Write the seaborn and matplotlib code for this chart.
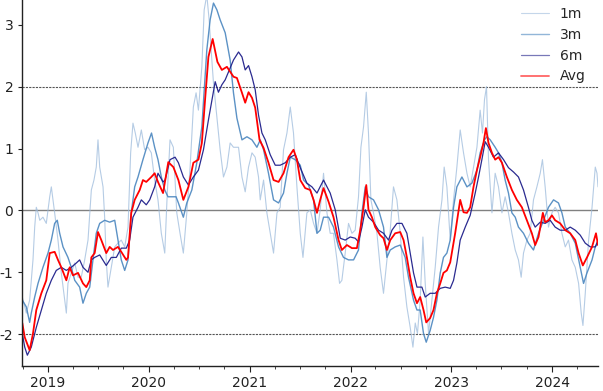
import numpy as np
import pandas as pd
import matplotlib
matplotlib.use("Agg")
import matplotlib.pyplot as plt
import matplotlib.dates as mdates
import seaborn as sns

# ---- data (decimal years, z-score values) ----
t_1m = [2018.745, 2018.785, 2018.818, 2018.851, 2018.868, 2018.884, 2018.901, 2018.918, 2018.950, 2018.983,
        2019.017, 2019.033, 2019.066, 2019.099, 2019.132, 2019.166, 2019.182, 2019.198, 2019.231, 2019.265,
        2019.298, 2019.330, 2019.364, 2019.397, 2019.430, 2019.456, 2019.479, 2019.496, 2019.513, 2019.546,
        2019.562, 2019.578, 2019.595, 2019.628, 2019.662, 2019.694, 2019.727, 2019.761, 2019.794, 2019.820,
        2019.843, 2019.866, 2019.893, 2019.926, 2019.959, 2019.992, 2020.025, 2020.058, 2020.091, 2020.124,
        2020.158, 2020.180, 2020.210, 2020.243, 2020.277, 2020.309, 2020.342, 2020.376, 2020.409, 2020.441,
        2020.468, 2020.491, 2020.525, 2020.548, 2020.574, 2020.597, 2020.617, 2020.640, 2020.674, 2020.706,
        2020.739, 2020.773, 2020.805, 2020.838, 2020.888, 2020.922, 2020.954, 2020.987, 2021.021, 2021.053,
        2021.086, 2021.103, 2021.136, 2021.169, 2021.202, 2021.235, 2021.269, 2021.301, 2021.334, 2021.368,
        2021.401, 2021.433, 2021.467, 2021.500, 2021.527, 2021.566, 2021.599, 2021.632, 2021.666, 2021.698,
        2021.731, 2021.765, 2021.797, 2021.830, 2021.864, 2021.890, 2021.913, 2021.946, 2021.979, 2022.013,
        2022.045, 2022.078, 2022.102, 2022.128, 2022.155, 2022.177, 2022.201, 2022.227, 2022.261, 2022.293,
        2022.326, 2022.360, 2022.393, 2022.425, 2022.459, 2022.492, 2022.525, 2022.558, 2022.591, 2022.618,
        2022.641, 2022.663, 2022.690, 2022.717, 2022.740, 2022.773, 2022.806, 2022.839, 2022.872, 2022.906,
        2022.928, 2022.955, 2022.988, 2023.021, 2023.054, 2023.087, 2023.120, 2023.154, 2023.186, 2023.219,
        2023.253, 2023.285, 2023.308, 2023.328, 2023.348, 2023.368, 2023.402, 2023.434, 2023.467, 2023.501,
        2023.533, 2023.566, 2023.600, 2023.633, 2023.665, 2023.692, 2023.715, 2023.749, 2023.781, 2023.814,
        2023.848, 2023.881, 2023.903, 2023.930, 2023.963, 2023.997, 2024.029, 2024.062, 2024.096, 2024.129,
        2024.161, 2024.195, 2024.228, 2024.261, 2024.287, 2024.304, 2024.327, 2024.360, 2024.394, 2024.426,
        2024.443, 2024.453]
v_1m = [-1.40, -1.66, -1.45, -0.80, -0.27, 0.05, -0.04, -0.16, -0.11, -0.21,
        0.22, 0.38, -0.04, -0.48, -1.01, -1.45, -1.66, -1.18, -1.01, -0.85,
        -1.08, -1.08, -0.80, -0.48, 0.33, 0.49, 0.70, 1.14, 0.70, 0.38,
        -0.11, -0.80, -1.24, -0.92, -0.59, -0.53, -0.48, -0.59, -0.27, 0.93,
        1.41, 1.25, 1.02, 1.30, 0.98, 1.02, 0.93, 0.49, 0.17, -0.37,
        -0.69, 0.17, 1.14, 1.02, -0.04, -0.37, -0.69, -0.04, 0.70, 1.67,
        1.90, 1.62, 2.32, 3.24, 3.48, 3.08, 2.59, 2.06, 1.51, 0.98,
        0.54, 0.70, 1.09, 1.02, 1.02, 0.54, 0.30, 0.70, 0.93, 0.86,
        0.54, 0.17, 0.49, -0.04, -0.37, -0.69, -0.04, 0.05, 0.98, 1.25,
        1.67, 1.25, 0.38, -0.37, -0.76, -0.04, 0.01, -0.21, -0.37, 0.01,
        0.60, -0.04, -0.37, -0.37, -0.80, -1.18, -1.13, -0.69, -0.21, -0.37,
        -0.32, 0.22, 1.02, 1.35, 1.91, 1.25, 0.17, -0.04, -0.37, -0.92,
        -1.34, -0.80, -0.32, 0.38, 0.17, -0.37, -1.08, -1.56, -1.89, -2.21,
        -1.82, -1.99, -1.45, -0.43, -1.18, -1.99, -1.45, -0.92, -0.27, 0.17,
        0.70, 0.38, -0.48, 0.17, 0.70, 1.30, 0.93, 0.60, 0.38, 0.70,
        1.02, 1.62, 1.25, 1.79, 2.00, 0.82, -0.04, 0.60, 0.38, -0.04,
        0.22, -0.04, -0.37, -0.64, -0.80, -1.08, -0.69, -0.48, -0.37, 0.17,
        0.38, 0.60, 0.82, 0.38, -0.27, -0.04, 0.05, -0.04, -0.37, -0.59,
        -0.48, -0.80, -0.92, -1.18, -1.66, -1.86, -1.34, -0.48, 0.05, 0.70,
        0.60, 0.38]

t_3m = [2018.745, 2018.785, 2018.818, 2018.834, 2018.868, 2018.901, 2018.950, 2019.000, 2019.033, 2019.066,
        2019.092, 2019.116, 2019.149, 2019.198, 2019.231, 2019.265, 2019.314, 2019.347, 2019.380, 2019.414,
        2019.446, 2019.479, 2019.513, 2019.562, 2019.612, 2019.662, 2019.694, 2019.727, 2019.761, 2019.794,
        2019.826, 2019.860, 2019.893, 2019.942, 2019.992, 2020.027, 2020.058, 2020.091, 2020.124, 2020.158,
        2020.190, 2020.230, 2020.270, 2020.293, 2020.342, 2020.376, 2020.426, 2020.475, 2020.525, 2020.574,
        2020.607, 2020.640, 2020.674, 2020.706, 2020.756, 2020.805, 2020.838, 2020.872, 2020.922, 2020.971,
        2021.021, 2021.070, 2021.103, 2021.136, 2021.185, 2021.235, 2021.285, 2021.334, 2021.368, 2021.401,
        2021.450, 2021.500, 2021.533, 2021.582, 2021.632, 2021.666, 2021.698, 2021.731, 2021.781, 2021.830,
        2021.880, 2021.929, 2021.979, 2022.029, 2022.078, 2022.112, 2022.145, 2022.177, 2022.227, 2022.277,
        2022.326, 2022.360, 2022.393, 2022.442, 2022.492, 2022.541, 2022.574, 2022.624, 2022.658, 2022.690,
        2022.723, 2022.750, 2022.789, 2022.822, 2022.856, 2022.889, 2022.921, 2022.955, 2022.988, 2023.021,
        2023.054, 2023.104, 2023.154, 2023.203, 2023.253, 2023.285, 2023.328, 2023.352, 2023.385, 2023.434,
        2023.467, 2023.501, 2023.533, 2023.566, 2023.600, 2023.633, 2023.665, 2023.715, 2023.764, 2023.814,
        2023.864, 2023.913, 2023.963, 2024.013, 2024.062, 2024.096, 2024.129, 2024.178, 2024.228, 2024.277,
        2024.310, 2024.344, 2024.394, 2024.426, 2024.453]
v_3m = [-1.45, -1.56, -1.81, -1.66, -1.40, -1.18, -0.92, -0.69, -0.48, -0.21,
        -0.16, -0.37, -0.59, -0.76, -0.92, -1.13, -1.24, -1.50, -1.34, -1.24,
        -0.80, -0.37, -0.21, -0.16, -0.19, -0.16, -0.48, -0.80, -0.97, -0.80,
        -0.04, 0.38, 0.54, 0.82, 1.09, 1.25, 1.02, 0.82, 0.54, 0.33,
        0.22, 0.22, 0.22, 0.12, -0.11, 0.12, 0.33, 0.77, 1.35, 2.59,
        3.08, 3.35, 3.24, 3.08, 2.87, 2.43, 1.90, 1.49, 1.14, 1.19,
        1.14, 1.02, 1.14, 0.98, 0.60, 0.17, 0.12, 0.28, 0.60, 0.86,
        0.82, 0.73, 0.49, 0.41, 0.17, -0.37, -0.32, -0.11, -0.11, -0.27,
        -0.59, -0.76, -0.80, -0.80, -0.64, -0.04, 0.38, 0.22, 0.17, 0.01,
        -0.27, -0.76, -0.64, -0.59, -0.56, -0.76, -1.08, -1.45, -1.61, -1.61,
        -1.99, -2.13, -1.94, -1.73, -1.45, -1.01, -0.76, -0.69, -0.48, 0.05,
        0.38, 0.54, 0.38, 0.44, 0.65, 0.93, 1.14, 1.19, 1.14, 1.02,
        0.93, 0.77, 0.49, 0.28, -0.04, -0.11, -0.27, -0.37, -0.53, -0.64,
        -0.37, -0.16, 0.05, 0.17, 0.12, -0.04, -0.27, -0.37, -0.53, -0.92,
        -1.18, -1.01, -0.80, -0.59, -0.53]

t_6m = [2018.745, 2018.769, 2018.795, 2018.834, 2018.884, 2018.934, 2018.983, 2019.033, 2019.082, 2019.132,
        2019.182, 2019.231, 2019.281, 2019.314, 2019.347, 2019.397, 2019.430, 2019.463, 2019.513, 2019.578,
        2019.628, 2019.678, 2019.727, 2019.777, 2019.810, 2019.843, 2019.893, 2019.926, 2019.975, 2020.009,
        2020.058, 2020.091, 2020.141, 2020.161, 2020.210, 2020.260, 2020.293, 2020.342, 2020.392, 2020.441,
        2020.491, 2020.541, 2020.590, 2020.657, 2020.689, 2020.723, 2020.756, 2020.805, 2020.838, 2020.888,
        2020.922, 2020.954, 2020.987, 2021.021, 2021.053, 2021.086, 2021.120, 2021.153, 2021.202, 2021.252,
        2021.301, 2021.351, 2021.401, 2021.450, 2021.500, 2021.566, 2021.616, 2021.666, 2021.731, 2021.797,
        2021.847, 2021.897, 2021.946, 2021.996, 2022.045, 2022.078, 2022.112, 2022.145, 2022.177, 2022.227,
        2022.277, 2022.326, 2022.376, 2022.410, 2022.459, 2022.509, 2022.558, 2022.591, 2022.624, 2022.658,
        2022.707, 2022.740, 2022.789, 2022.839, 2022.889, 2022.938, 2022.988, 2023.021, 2023.054, 2023.087,
        2023.137, 2023.186, 2023.236, 2023.269, 2023.302, 2023.335, 2023.368, 2023.417, 2023.467, 2023.517,
        2023.566, 2023.616, 2023.665, 2023.715, 2023.764, 2023.798, 2023.831, 2023.881, 2023.930, 2023.980,
        2024.029, 2024.079, 2024.129, 2024.178, 2024.228, 2024.277, 2024.327, 2024.377, 2024.426, 2024.453]
v_6m = [-1.99, -2.21, -2.34, -2.21, -1.89, -1.61, -1.34, -1.13, -0.97, -0.92,
        -0.97, -0.92, -0.85, -0.80, -0.92, -1.00, -0.80, -0.76, -0.72, -0.89,
        -0.76, -0.76, -0.61, -0.61, -0.48, -0.11, 0.05, 0.17, 0.09, 0.17,
        0.38, 0.60, 0.46, 0.49, 0.82, 0.86, 0.77, 0.54, 0.41, 0.54,
        0.65, 0.98, 1.46, 2.08, 1.91, 2.03, 2.11, 2.30, 2.43, 2.56,
        2.48, 2.27, 2.34, 2.16, 1.95, 1.54, 1.25, 1.14, 0.90, 0.73,
        0.73, 0.77, 0.86, 0.90, 0.69, 0.44, 0.38, 0.28, 0.49, 0.28,
        0.01, -0.45, -0.48, -0.43, -0.45, -0.51, -0.27, 0.01, -0.11, -0.19,
        -0.32, -0.37, -0.48, -0.32, -0.21, -0.21, -0.37, -0.69, -1.01, -1.24,
        -1.24, -1.40, -1.34, -1.34, -1.26, -1.24, -1.26, -1.13, -0.85, -0.48,
        -0.27, -0.08, 0.28, 0.54, 0.82, 1.11, 1.02, 0.86, 0.93, 0.82,
        0.69, 0.62, 0.54, 0.33, 0.05, -0.16, -0.27, -0.19, -0.21, -0.16,
        -0.27, -0.32, -0.32, -0.27, -0.32, -0.40, -0.53, -0.59, -0.59, -0.48]

t_avg = [2018.745, 2018.769, 2018.818, 2018.851, 2018.884, 2018.934, 2018.983, 2019.017, 2019.066, 2019.099,
         2019.132, 2019.182, 2019.215, 2019.248, 2019.298, 2019.347, 2019.380, 2019.414, 2019.430, 2019.463,
         2019.496, 2019.529, 2019.578, 2019.612, 2019.645, 2019.694, 2019.727, 2019.777, 2019.794, 2019.826,
         2019.860, 2019.910, 2019.942, 2019.975, 2020.025, 2020.058, 2020.091, 2020.141, 2020.193, 2020.243,
         2020.293, 2020.342, 2020.392, 2020.441, 2020.491, 2020.525, 2020.557, 2020.590, 2020.632, 2020.679,
         2020.723, 2020.773, 2020.805, 2020.838, 2020.872, 2020.922, 2020.954, 2020.987, 2021.021, 2021.053,
         2021.096, 2021.136, 2021.185, 2021.235, 2021.285, 2021.334, 2021.384, 2021.433, 2021.467, 2021.500,
         2021.549, 2021.599, 2021.632, 2021.666, 2021.698, 2021.731, 2021.781, 2021.830, 2021.880, 2021.913,
         2021.963, 2022.013, 2022.062, 2022.095, 2022.128, 2022.155, 2022.177, 2022.211, 2022.244, 2022.293,
         2022.326, 2022.360, 2022.393, 2022.442, 2022.492, 2022.525, 2022.558, 2022.591, 2022.624, 2022.658,
         2022.690, 2022.723, 2022.750, 2022.789, 2022.822, 2022.856, 2022.889, 2022.921, 2022.955, 2022.988,
         2023.037, 2023.087, 2023.120, 2023.154, 2023.186, 2023.219, 2023.253, 2023.285, 2023.318, 2023.342,
         2023.368, 2023.402, 2023.434, 2023.467, 2023.501, 2023.550, 2023.600, 2023.649, 2023.699, 2023.749,
         2023.798, 2023.831, 2023.864, 2023.907, 2023.930, 2023.963, 2023.997, 2024.029, 2024.079, 2024.129,
         2024.178, 2024.228, 2024.261, 2024.303, 2024.344, 2024.394, 2024.433, 2024.453]
v_avg = [-1.82, -2.05, -2.26, -1.99, -1.61, -1.34, -1.13, -0.69, -0.67, -0.80,
         -0.92, -1.13, -0.92, -1.05, -1.01, -1.18, -1.24, -1.13, -0.76, -0.69,
         -0.35, -0.48, -0.69, -0.59, -0.64, -0.59, -0.67, -0.80, -0.76, -0.04,
         0.17, 0.33, 0.49, 0.46, 0.54, 0.60, 0.46, 0.28, 0.78, 0.70,
         0.49, 0.17, 0.38, 0.77, 0.82, 1.09, 1.79, 2.48, 2.77, 2.40,
         2.27, 2.32, 2.24, 2.16, 2.14, 1.90, 1.74, 1.91, 1.82, 1.66,
         1.14, 1.01, 0.77, 0.49, 0.46, 0.60, 0.86, 0.98, 0.82, 0.49,
         0.36, 0.33, 0.17, -0.04, 0.17, 0.36, 0.14, -0.11, -0.48, -0.64,
         -0.56, -0.61, -0.61, -0.32, 0.05, 0.41, 0.01, -0.11, -0.27, -0.40,
         -0.45, -0.64, -0.48, -0.37, -0.35, -0.48, -0.76, -1.08, -1.34, -1.50,
         -1.40, -1.61, -1.81, -1.74, -1.61, -1.34, -1.18, -1.01, -0.97, -0.84,
         -0.37, 0.17, -0.03, -0.04, 0.05, 0.38, 0.65, 0.86, 1.09, 1.33,
         1.09, 0.93, 0.82, 0.86, 0.77, 0.54, 0.33, 0.17, 0.05, -0.16,
         -0.37, -0.56, -0.43, -0.04, -0.19, -0.16, -0.08, -0.16, -0.21, -0.32,
         -0.37, -0.48, -0.69, -0.89, -0.76, -0.59, -0.37, -0.56]

labels = ["1m", "3m", "6m", "Avg"]


def to_dates(ts):
    out = []
    for t in ts:
        y = int(np.floor(t))
        start = pd.Timestamp(year=y, month=1, day=1)
        ndays = (pd.Timestamp(year=y + 1, month=1, day=1) - start).days
        out.append(start + pd.Timedelta(days=(t - y) * ndays))
    return out


series = [
    (t_1m, v_1m, "#9dbbdc", 0.8, 0.75),
    (t_3m, v_3m, "#4a86bf", 1.0, 0.9),
    (t_6m, v_6m, "#1f1f8a", 0.9, 0.95),
    (t_avg, v_avg, "#ff0000", 1.3, 1.0),
]

sns.set_style("ticks")
plt.rcParams["axes.unicode_minus"] = False
plt.rcParams["font.family"] = ["DejaVu Sans"]

fig = plt.figure(figsize=(6.03, 3.91), dpi=100)
ax = fig.add_axes([22.3 / 603, (391 - 365.7) / 391, (598 - 22.3) / 603, 365.7 / 391])

ax.axhline(0, color="#808080", lw=1.0, zorder=1)
ax.axhline(2, color="#555555", lw=0.8, ls=(0, (2, 1)), zorder=1)
ax.axhline(-2, color="#555555", lw=0.8, ls=(0, (2, 1)), zorder=1)

for (ts, vs, col, lw, al), lab in zip(series, labels):
    df = pd.DataFrame({"date": to_dates(ts), "value": vs})
    sns.lineplot(data=df, x="date", y="value", ax=ax, color=col, lw=lw,
                 alpha=al, label=lab, estimator=None, sort=False)

all_dates = to_dates(t_1m)
ax.set_xlim(all_dates[0], all_dates[-1])
ax.set_ylim(-2.51, 3.40)
ax.set_xlabel("")
ax.set_ylabel("")
ax.xaxis.set_major_locator(mdates.YearLocator())
ax.xaxis.set_major_formatter(mdates.DateFormatter("%Y"))
ax.xaxis.set_minor_locator(mdates.MonthLocator(bymonth=[4, 7, 10]))
ax.tick_params(axis="both", labelsize=10, colors="#222222")
ax.tick_params(axis="x", which="major", length=4)
ax.tick_params(axis="x", which="minor", length=2.5)
ax.tick_params(axis="y", length=3)
sns.despine(ax=ax)
for s in ["left", "bottom"]:
    ax.spines[s].set_color("#222222")
    ax.spines[s].set_linewidth(1.0)

leg = ax.legend(loc="upper right", frameon=False, fontsize=10,
                bbox_to_anchor=(1.0, 1.016))
for h in leg.get_lines():
    h.set_alpha(0.6)

fig.savefig("out.png", dpi=100)
